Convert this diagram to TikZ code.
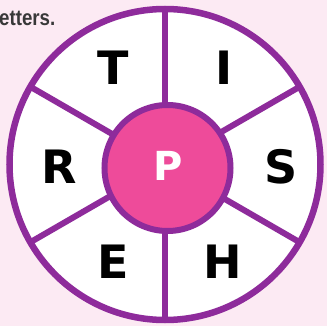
\documentclass[tikz,border=0pt]{standalone}
\usepackage{fontspec}
\setmainfont{DejaVu Sans}
\newfontfamily\capfont{Liberation Sans}
\definecolor{bg}{HTML}{FCEAF3}
\definecolor{wheel}{HTML}{8E2B9B}
\definecolor{hub}{HTML}{EE4B9A}
\definecolor{txt}{HTML}{383838}
\begin{document}
\begin{tikzpicture}[x=1pt,y=-1pt,
  letter/.style={font=\fontsize{46}{46}\selectfont\bfseries, text=black, inner sep=0pt, anchor=center},
  hubletter/.style={font=\fontsize{40}{40}\selectfont\bfseries, text=white, inner sep=0pt, anchor=center},
  rim/.style={draw=wheel, line width=6.5pt},
  spoke/.style={draw=wheel, line width=6pt}]
\fill[bg] (0,0) rectangle (327,326);
\useasboundingbox (0,0) rectangle (327,326);
\node[font=\capfont\bfseries\fontsize{22}{22}\selectfont, text=txt, inner sep=0pt, anchor=base west, xscale=0.85] (cap) at (-1,26) {etters.};
\coordinate (C) at (165,164.5);
\coordinate (Hc) at (167.5,168);
\draw[rim, fill=white] (C) circle[radius=155.5pt];
\foreach \a in {90,30,-30,-90,210,150}
  \draw[spoke] (C) -- +(\a:155.5pt);
\draw[rim, line width=6pt, fill=hub] (Hc) circle[radius=63pt];
\node[letter] (T) at (113.5,68) {T};
\node[letter] (I) at (224,68) {I};
\node[letter] (R) at (59,167) {R};
\node[letter] (S) at (281,167) {S};
\node[letter] (E) at (113,262) {E};
\node[letter] (H) at (223,262) {H};
\node[hubletter] (P) at (168,166) {P};
\end{tikzpicture}
\end{document}
